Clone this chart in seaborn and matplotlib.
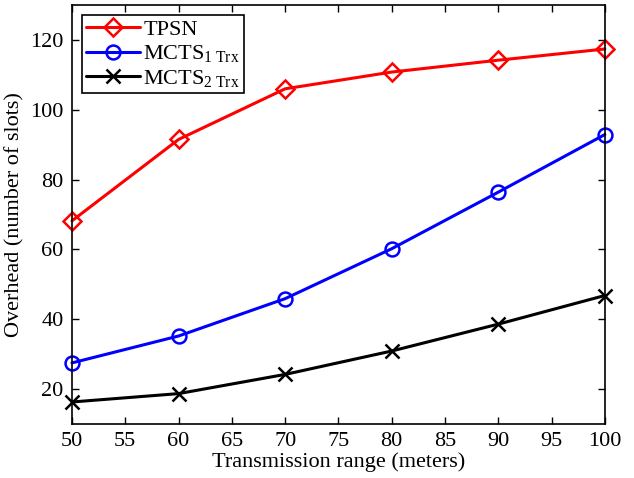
import numpy as np
import pandas as pd
import matplotlib
matplotlib.use("Agg")
import matplotlib.pyplot as plt
import seaborn as sns

x_range = [50, 60, 70, 80, 90, 100]
tpsn = [68.2, 91.5, 106.0, 110.8, 114.2, 117.4]
mcts1 = [27.5, 35.2, 45.9, 60.2, 76.4, 92.9]
mcts2 = [16.3, 18.7, 24.2, 30.9, 38.6, 46.8]
labels = ["TPSN", r"MCTS$_{\mathrm{1\ Trx}}$", r"MCTS$_{\mathrm{2\ Trx}}$"]
colors = ["#ff0000", "#0000ff", "#000000"]
markers = ["D", "o", "x"]

sns.set_style("white")
plt.rcParams["font.family"] = ["Liberation Serif", "DejaVu Serif"]
plt.rcParams["mathtext.fontset"] = "custom"
plt.rcParams["mathtext.rm"] = "Liberation Serif"
plt.rcParams["mathtext.it"] = "Liberation Serif:italic"
plt.rcParams["text.color"] = "black"
plt.rcParams["axes.labelcolor"] = "black"

df = pd.DataFrame({
    "x": x_range * 3,
    "y": tpsn + mcts1 + mcts2,
    "series": [labels[0]] * 6 + [labels[1]] * 6 + [labels[2]] * 6,
})

fig = plt.figure(figsize=(6.34, 4.78), dpi=100)
ax = fig.add_axes([0.1136, 0.113, 0.8404, 0.8765])

for lab, col, m in zip(labels, colors, markers):
    sub = df[df["series"] == lab]
    sns.lineplot(data=sub, x="x", y="y", ax=ax, color=col, linewidth=2.2,
                 marker=m, markersize=(9 if m == "D" else 10),
                 markerfacecolor="none" if m != "x" else col,
                 markeredgecolor=col, markeredgewidth=1.8, label=lab,
                 clip_on=False)

ax.set_xlim(50, 100)
ax.set_ylim(10, 130)
ax.set_xticks(np.arange(50, 101, 5))
ax.set_yticks([20, 40, 60, 80, 100, 120])
ax.tick_params(direction="in", length=5, width=1, top=True, right=True,
               bottom=True, left=True, labelsize=16, colors="black", pad=6)
for s in ax.spines.values():
    s.set_color("black")
    s.set_linewidth(1.2)
ax.set_xlabel("Transmission range (meters)", fontsize=16, labelpad=1, color="black")
ax.set_ylabel("Overhead (number of slots)", fontsize=16, labelpad=4, color="black")

leg = ax.legend(loc="upper left", fontsize=16, frameon=True, fancybox=False,
                edgecolor="black", framealpha=1, borderpad=0.2,
                labelspacing=0.15, handlelength=2.4, handletextpad=0.15,
                borderaxespad=0.45)
leg.get_frame().set_linewidth(1.2)
for t in leg.get_texts():
    t.set_color("black")

fig.savefig("out.png", dpi=100)
